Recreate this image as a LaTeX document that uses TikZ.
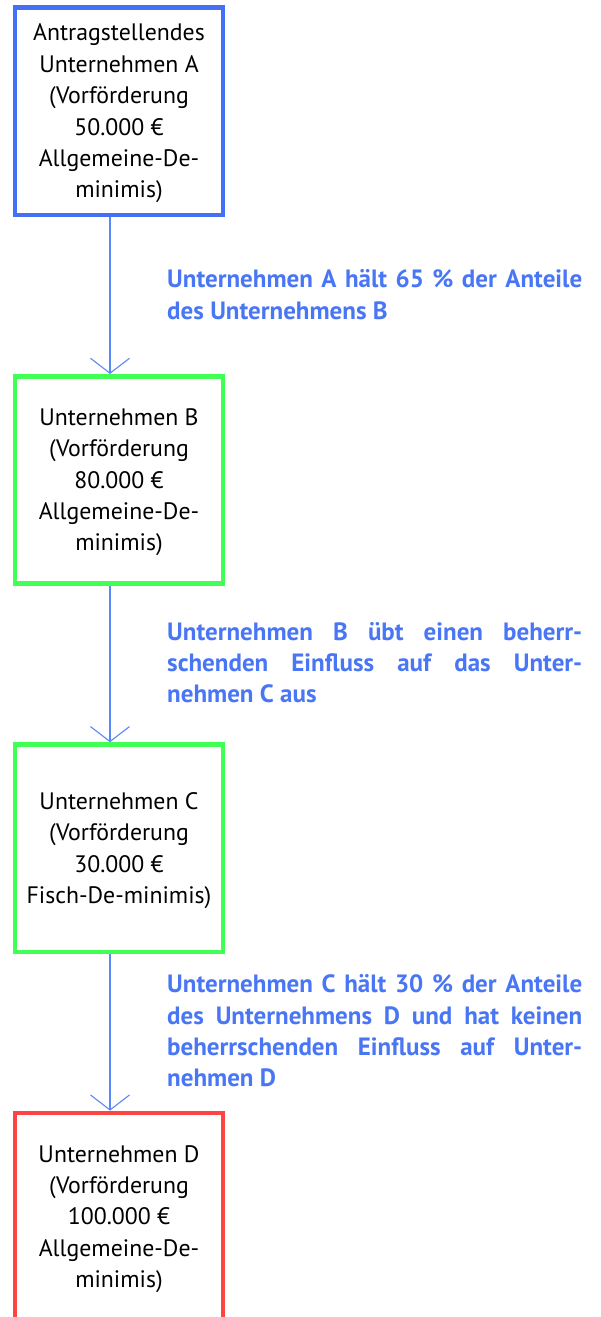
\documentclass[tikz,border=0pt]{standalone}
\usepackage{fontspec}
\setmainfont{PT Sans}
\usetikzlibrary{arrows.meta}
\definecolor{bblue}{RGB}{68,112,246}
\definecolor{bgreen}{RGB}{66,255,86}
\definecolor{bred}{RGB}{255,68,68}
\definecolor{tblue}{RGB}{72,118,245}
\definecolor{lblue}{RGB}{90,135,250}
\tikzset{
  firm/.style={draw, line width=4.6pt, minimum width=208pt, minimum height=207.5pt,
    inner sep=0pt, align=center, font=\fontsize{23.8}{31.4}\selectfont},
  link/.style={draw=lblue, line width=1.1pt,
    -{Straight Barb[length=15pt,width=39pt,line width=1.1pt]}},
  note/.style={anchor=base west, inner sep=0pt, text=tblue}
}
\newcommand{\topstrut}{\rule{0pt}{21.5pt}}
\newcommand{\notetext}[1]{\parbox[t]{415pt}{\fontsize{25}{31.3}\selectfont\bfseries\hyphenpenalty=10000 #1}}
\begin{document}
\begin{tikzpicture}[x=1pt,y=-1pt]
\useasboundingbox[fill=white] (0,0) rectangle (601,1317);
\node[firm, draw=bblue] (A) at (119,111.25) {\topstrut Antragstellendes\\Unternehmen A\\(Vorförderung\\50.000 €\\Allgemeine-De-\\minimis)};
\node[firm, draw=bgreen] (B) at (119,480) {\topstrut Unternehmen B\\(Vorförderung\\80.000 €\\Allgemeine-De-\\minimis)};
\node[firm, draw=bgreen] (C) at (119,848.3) {\topstrut Unternehmen C\\(Vorförderung\\30.000 €\\Fisch-De-minimis)};
\node[firm, draw=bred] (D) at (119,1216.7) {\topstrut Unternehmen D\\(Vorförderung\\100.000 €\\Allgemeine-De-\\minimis)};
\draw[link] ([xshift=-9pt]A.south) -- ([xshift=-9pt]B.north);
\draw[link] ([xshift=-9pt]B.south) -- ([xshift=-9pt]C.north);
\draw[link] ([xshift=-9pt]C.south) -- ([xshift=-9pt]D.north);
\node[note] (l1) at (167,287.7) {\notetext{Unternehmen A hält 65 \% der Anteile\linebreak des Unternehmens B}};
\node[note] (l2) at (167,640) {\notetext{Unternehmen B übt einen beherr-\linebreak schenden Einfluss auf das Unter-\linebreak nehmen C aus}};
\node[note] (l3) at (167,992.7) {\notetext{Unternehmen C hält 30 \% der Anteile\linebreak des Unternehmens D und hat keinen\linebreak beherrschenden Einfluss auf Unter-\linebreak nehmen D}};
\end{tikzpicture}
\end{document}
